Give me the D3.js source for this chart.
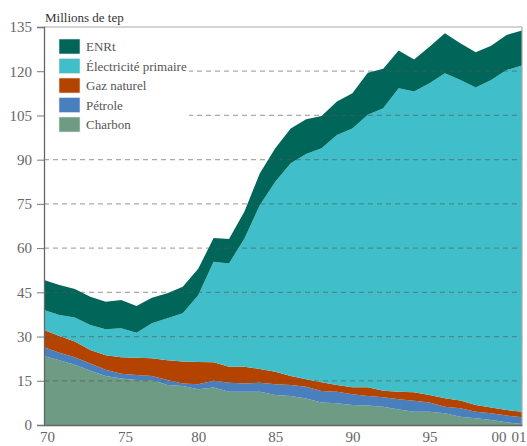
<!DOCTYPE html>
<html><head><meta charset="utf-8">
<script src="https://cdn.jsdelivr.net/npm/d3@7"></script>
<style>
html,body{margin:0;padding:0;background:#fff;}
svg{display:block;}
svg text{font-family:"Liberation Serif","Times New Roman",Times,"Nimbus Roman","DejaVu Serif",serif !important;}
</style></head>
<body><svg id="chart" width="527" height="446"></svg>
<script>
const years = d3.range(1970, 2002);
const charbon = [23.4,22.0,20.4,18.4,16.6,15.8,15.3,15.3,13.6,13.2,12.1,12.7,11.3,11.3,11.3,10.2,9.8,9.0,7.6,7.4,6.8,6.6,6.2,5.3,4.5,4.5,4.0,2.8,2.3,1.7,0.9,0.3];
const petrole = [3.0,2.5,2.6,2.5,2.1,1.6,1.7,1.3,1.7,0.9,1.7,2.3,3.0,2.8,3.0,3.6,3.8,4.0,3.9,3.9,3.6,3.2,3.2,3.4,3.7,3.1,2.2,2.9,2.2,2.3,2.3,2.3];
const gaz = [5.8,5.7,5.3,4.5,5.0,5.6,5.8,6.0,6.7,7.4,7.6,6.3,5.5,5.7,4.7,4.3,3.0,2.5,3.0,2.3,2.4,3.0,2.2,2.6,2.9,2.6,2.9,2.6,2.3,1.9,1.9,1.9];
const electricite = [6.8,7.1,8.2,8.5,8.8,9.8,8.5,11.9,14.2,16.4,22.6,34.1,35.0,43.5,55.6,64.4,72.2,76.4,79.4,84.8,87.8,92.4,95.8,102.9,102.0,105.7,110.2,108.7,107.7,111.1,115.3,117.4];
const enrt = [10.2,10.2,9.6,9.6,9.3,9.6,9.1,8.7,8.5,9.0,9.0,8.0,8.3,9.1,10.8,11.4,11.8,11.8,10.9,11.3,11.9,14.3,13.4,12.8,10.9,12.4,13.6,12.5,11.9,11.6,11.9,11.9];

const seriesNames = ["Charbon","Pétrole","Gaz naturel","Électricité primaire","ENRt"];
const seriesColors = ["#6e9b84","#4a7fbd","#b54300","#40bfca","#006659"];
const yTicks = [0,15,30,45,60,75,90,105,120,135];
const xTickYears = [1970,1975,1980,1985,1990,1995,2000,2001];
const xTickLabels = ["70","75","80","85","90","95","00","01"];
const yTitle = "Millions de tep";

const FONT = '"Liberation Serif","Times New Roman",Times,serif';
const W = 527, H = 446;
const m = {l:44, r:5, t:27, b:21};
const svg = d3.select("#chart");

const table = years.map((yr,i)=>({year:yr, "Charbon":charbon[i], "Pétrole":petrole[i], "Gaz naturel":gaz[i], "Électricité primaire":electricite[i], "ENRt":enrt[i]}));
const stack = d3.stack().keys(seriesNames)(table);

const x = d3.scaleLinear().domain([1970,2001]).range([m.l, W-m.r]);
const y = d3.scaleLinear().domain([0,135]).range([H-m.b, m.t]);

const area = d3.area().x(d=>x(d.data.year)).y0(d=>y(d[0])).y1(d=>y(d[1]));

svg.append("g").selectAll("path").data(stack).join("path")
  .attr("d", area).attr("fill",(d,i)=>seriesColors[i]);

// gridlines
svg.append("g").selectAll("line").data(yTicks.filter(v=>v>0&&v<135)).join("line")
  .attr("x1", m.l).attr("x2", W-m.r)
  .attr("y1", d=>y(d)).attr("y2", d=>y(d))
  .attr("stroke","#555").attr("stroke-opacity",0.5)
  .attr("stroke-width",1.2).attr("stroke-dasharray","5,4");

// legend (white background)
const lg = svg.append("g");
lg.append("rect").attr("x", m.l+1).attr("y", m.t+1).attr("width", 144).attr("height", 112).attr("fill","#fff");
const legendOrder = [4,3,2,1,0];
legendOrder.forEach((si,k)=>{
  const gy = 39 + k*19.5;
  lg.append("rect").attr("x",59).attr("y",gy).attr("width",21).attr("height",15)
    .attr("fill",seriesColors[si]).attr("stroke","#e8e8e8").attr("stroke-width",0.6);
  lg.append("text").attr("x",86).attr("y",gy+12).attr("font-size",13).attr("fill","#555")
    .attr("font-family",FONT).text(seriesNames[si]);
});

// frame
svg.append("line").attr("x1",m.l).attr("x2",W-m.r).attr("y1",y(135)).attr("y2",y(135)).attr("stroke","#aaa").attr("stroke-width",1.2);
svg.append("line").attr("x1",W-m.r).attr("x2",W-m.r).attr("y1",y(135)).attr("y2",y(0)).attr("stroke","#aaa").attr("stroke-width",1.2);

// y axis
const yAxis = d3.axisLeft(y).tickValues(yTicks).tickSize(7).tickPadding(5).tickFormat(d3.format("d"));
const gY = svg.append("g").attr("transform",`translate(${m.l},0)`).call(yAxis).attr("font-family",FONT);
gY.select(".domain").attr("stroke","#666").attr("stroke-width",1.3);
gY.selectAll(".tick line").attr("stroke","#777");
gY.selectAll(".tick text").attr("font-size",15).attr("fill","#666");

// x axis
const xAxis = d3.axisBottom(x).tickValues(xTickYears).tickSize(0).tickPadding(6)
  .tickFormat(d=>xTickLabels[xTickYears.indexOf(d)]);
const gX = svg.append("g").attr("transform",`translate(0,${H-m.b})`).call(xAxis).attr("font-family",FONT);
gX.select(".domain").attr("stroke","#666").attr("stroke-width",1.3);
gX.selectAll(".tick text").attr("font-size",15).attr("fill","#666")
  .attr("text-anchor",d=> d===2001?"end":"middle")
  .attr("dx",(d)=> d===1970?3 : d===1975?4 : d===2000?-8 : d===2001?4 : 0);

svg.append("text").attr("x",45).attr("y",22).attr("font-size",13).attr("fill","#333")
  .attr("font-family",FONT).text(yTitle);
</script></body></html>
